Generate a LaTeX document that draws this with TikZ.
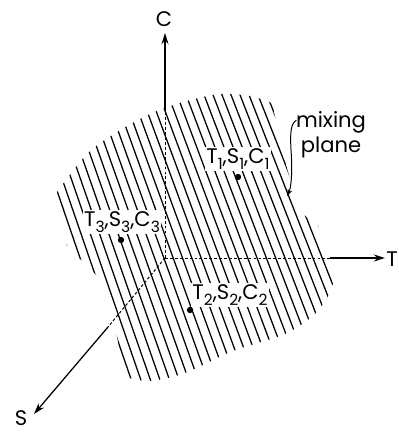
\documentclass[tikz,border=0pt]{standalone}
\usepackage{fontspec}
\setmainfont{Poppins}
\usetikzlibrary{arrows.meta,positioning,calc}
\newcommand{\sub}[1]{\raisebox{-0.55ex}{\fontsize{11}{11}\selectfont #1}}
\tikzset{
    axis/.style={line width=0.9pt},
    hidden/.style={line width=0.7pt, dash pattern=on 2pt off 1.5pt},
    hatch/.style={line width=0.9pt},
    point/.style={circle, fill, inner sep=0pt, minimum size=4.5pt},
    lab/.style={fill=white, inner sep=1pt, font=\fontsize{15}{17.5}\selectfont}
}

\begin{document}
\begin{tikzpicture}[
    x=0.025cm, y=-0.025cm,
    >={Stealth[length=8pt,width=5pt]}
]
    \useasboundingbox (0,0) rectangle (399,432);

    % Mixing plane (hatched, lines fan out slightly to the right)
    \begin{scope}
        \clip (57,192) -- (67,246) -- (86,265) -- (101,280) -- (110,302) -- (125,377)
            -- plot[smooth] coordinates {(125,377) (150,381) (185,373) (233,351) (285,334) (315,314) (331,292)}
            -- (333,283) -- (318,225) -- (300,212) -- (286,165) -- (272,103)
            -- plot[smooth] coordinates {(272,103) (250,96) (220,94) (183,102) (150,114) (117,132) (87,154) (57,192)}
            -- cycle;
        \foreach \i in {0,...,28}
            \draw[hatch] ({68+9.3*\i-190*(0.34+0.002*\i)},60) -- ({68+9.3*\i+150*(0.34+0.002*\i)},400);
    \end{scope}

    % Axes
    \coordinate (O) at (165,258);
    \coordinate (Cb) at (165,110);
    \coordinate (Tb) at (330,258);
    \coordinate (Sb) at (108,327);
    \coordinate (Ctip) at (165,33);
    \coordinate (Ttip) at (385,258);
    \coordinate (Stip) at (34,414);
    \draw[hidden] (O) -- (Cb);
    \draw[hidden] (O) -- (Tb);
    \draw[hidden] (O) -- (Sb);
    \draw[axis, ->] (Cb) -- (Ctip);
    \draw[axis, ->] (Tb) -- (Ttip);
    \draw[axis, ->] (Sb) -- (Stip);
    \node[lab, fill=none] (C) at (164,19) {C};
    \node[lab, fill=none] (T) at (392,259) {T};
    \node[lab, fill=none] (S) at (21,418) {S};

    % Points and their labels
    \node[lab] (l1) at (238,159) {T\sub{1},S\sub{1},C\sub{1}};
    \node[lab] (l2) at (230,295) {T\sub{2},S\sub{2},C\sub{2}};
    \node[lab] (l3) at (122,222) {T\sub{3},S\sub{3},C\sub{3}};
    \node[point] (p1) at (238,177) {};
    \node[point] (p2) at (190,310) {};
    \node[point] (p3) at (121,240) {};

    % Label of the plane
    \node[lab, fill=none, align=center] (mp) at (331,135) {mixing\\plane};
    \coordinate (mtip) at (287,196);
    \draw[line width=0.7pt, -{Stealth[length=5pt,width=3.5pt]}] ([shift={(2,10)}]mp.north west)
        .. controls ([shift={(-5,14)}]mp.north west) and ([shift={(-4,28)}]mp.north west) .. ([shift={(-3,45)}]mp.north west)
        .. controls ([shift={(-2,65)}]mp.north west) and (291,188) .. (mtip);
\end{tikzpicture}
\end{document}
